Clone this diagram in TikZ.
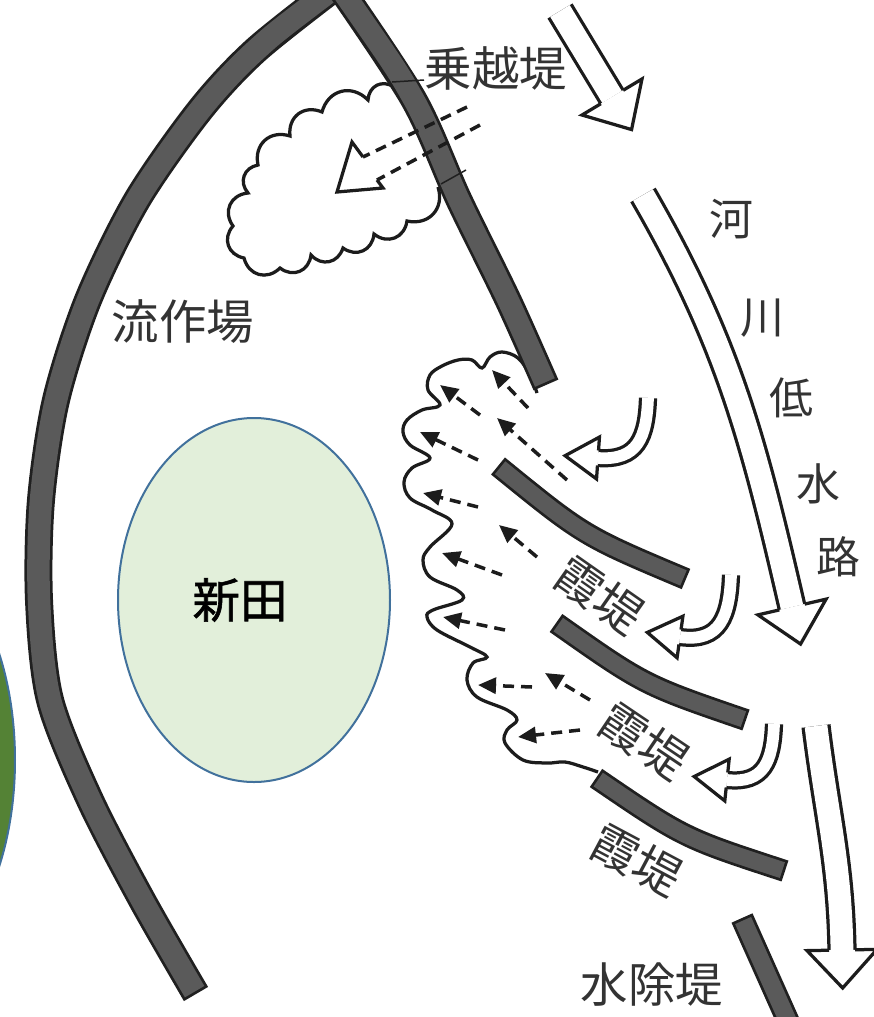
\documentclass[tikz,border=0pt]{standalone}
\usepackage{fontspec}
\setmainfont{Noto Sans CJK JP}
\newfontfamily\fieldfont[FakeBold=1.2]{Noto Sans CJK JP}
\usetikzlibrary{arrows.meta}

\definecolor{ink}{HTML}{1C1C1C}
\definecolor{dikegray}{HTML}{5A5A5A}
\definecolor{dikeline}{HTML}{202020}
\definecolor{labelgray}{HTML}{333333}
\definecolor{fieldgreen}{HTML}{E2EFDA}
\definecolor{fieldblue}{HTML}{41719C}
\definecolor{woodgreen}{HTML}{548235}

\tikzset{
  dike/.style={draw=dikeline, line width=#1,
    postaction={draw=dikegray, line width=#1-1.1mm, shorten <=0.55mm, shorten >=0.55mm}},
  floodline/.style={draw=ink, line width=0.65mm},
  dashline/.style={draw=ink, line width=0.7mm, dash pattern=on 2.2mm off 1.4mm},
  seepage/.style={dashline, -{Triangle[length=3.6mm, width=3.2mm]}},
  wideshaft/.style={draw=ink, line width=0.65mm, double=white, double distance=4.55mm},
  narrowshaft/.style={draw=ink, line width=0.65mm, double=white, double distance=2.35mm},
  pics/widehead/.style={code={
    \filldraw[draw=ink, fill=white, line width=0.65mm] (0,13) -- (0,35) -- (38,0) -- (0,-35) -- (0,-13);}},
  pics/narrowhead/.style={code={
    \filldraw[draw=ink, fill=white, line width=0.65mm] (0,7.5) -- (0,21) -- (33,0) -- (0,-21) -- (0,-7.5);}},
  lbl/.style={text=labelgray, font=\fontsize{27}{30}\selectfont, inner sep=0pt},
  scallop/.style={bend left=60, looseness=1.25},
}

\begin{document}
\begin{tikzpicture}[x=0.2mm, y=0.2mm, yscale=-1]
  \useasboundingbox (0,0) rectangle (874,1017);
  \clip (0,0) rectangle (874,1017);

  % fields
  \draw[draw=fieldblue, fill=woodgreen, line width=0.4mm] (-100,760) ellipse [x radius=115, y radius=210];
  \draw[draw=fieldblue, fill=fieldgreen, line width=0.4mm] (254,600) ellipse [x radius=136, y radius=182];
  \node[font=\fontsize{27}{30}\fieldfont, inner sep=0pt] (shinden) at (240,600) {新田};

  % water behind the overflow levee
  \draw[floodline] (394,87) to[scallop] (368,100) to[scallop] (322,112) to[scallop] (290,136)
    to[scallop] (258,165) to[scallop] (248,193) to[scallop] (233,226) to[scallop] (244,258)
    to[scallop] (280,268) to[scallop] (311,255) to[scallop] (343,248) to[scallop] (374,234)
    to[scallop] (407,221) to[scallop] (438,187);

  % water behind the open levees
  \draw[floodline] plot[smooth, tension=0.6] coordinates {
    (537,393) (530,375) (518,358) (502,352) (490,357) (482,368) (472,360) (458,360)
    (442,366) (430,375) (428,390) (440,405) (422,410) (407,420) (403,432) (410,445)
    (430,458) (412,468) (404,482) (410,498) (432,510) (452,524) (430,547) (423,560)
    (430,577) (457,590) (462,600) (433,610) (427,617) (437,630) (470,647) (487,657)
    (473,663) (467,680) (477,697) (507,710) (517,720) (507,730) (505,743) (523,760)
    (547,763) (565,762) (583,767) (598,772)};

  % levees
  \draw[dike=5.6mm] plot[smooth] coordinates {
    (338,-15) (256,50) (200,110) (137,200) (88,300) (56,400) (41,500) (39,600)
    (50,700) (90,800) (142,900) (196,994)};
  \draw[dike=5.4mm] plot[smooth] coordinates {
    (338,-15) (414,100) (459,200) (508,300) (546,385)};
  \draw[draw=dikeline, line width=0.3mm] (392,82) -- (424,80);
  \draw[draw=dikeline, line width=0.3mm] (441,184) -- (466,170);

  \draw[dike=4.4mm] (498,466) .. controls (584,536) .. (686,579);
  \draw[dike=4.4mm] (556,623) .. controls (644,685) .. (746,720);
  \draw[dike=4.4mm] (596,778) .. controls (684,838) .. (785,871);
  \draw[dike=4.6mm] (742,918) -- (792,1030);

  % overflow
  \draw[dashline] (467,107) -- (363,157);
  \draw[dashline] (480,125) -- (377,180);
  \draw[floodline] (363,157) -- (352,142) -- (337,192) -- (383,188) -- (377,180);

  % seepage through the open levees
  \draw[seepage] (528,408) -- (492,370);
  \draw[seepage] (567,480) -- (497,418);
  \draw[seepage] (480,415) -- (440,385);
  \draw[seepage] (478,460) -- (420,432);
  \draw[seepage] (478,507) -- (423,493);
  \draw[seepage] (537,557) -- (499,525);
  \draw[seepage] (502,575) -- (442,553);
  \draw[seepage] (505,630) -- (443,617);
  \draw[seepage] (532,687) -- (478,685);
  \draw[seepage] (590,700) -- (545,673);
  \draw[seepage] (580,730) -- (518,737);

  % river flow
  \draw[wideshaft] (560,11) -- (612,97);
  \pic[rotate=-59] at (612,97) {widehead};
  \draw[wideshaft] (643,195) to[out=60, in=-103] (792,607);
  \pic[rotate=-77] at (792,607) {widehead};
  \draw[wideshaft] (816,726) to[out=83, in=-91] (842,950);
  \pic[rotate=-89] at (842,950) {widehead};

  % backflow into the open levees
  \draw[narrowshaft] (648,398) to[out=92, in=4, looseness=1.3] (598,458);
  \pic[rotate=-184] at (598,458) {narrowhead};
  \draw[narrowshaft] (731,575) to[out=92, in=8, looseness=1.3] (680,637);
  \pic[rotate=-188] at (680,637) {narrowhead};
  \draw[narrowshaft] (774,724) to[out=92, in=6, looseness=1.3] (727,780);
  \pic[rotate=-186] at (727,780) {narrowhead};

  % labels
  \node[lbl] (norikoshi) at (496,68) {乗越堤};
  \node[lbl] (ryusaku) at (183,322) {流作場};
  \node[lbl, font=\fontsize{25}{28}\selectfont] (ka) at (731,219) {河};
  \node[lbl, font=\fontsize{25}{28}\selectfont] (sen) at (762,318) {川};
  \node[lbl, font=\fontsize{25}{28}\selectfont] (tei) at (791,398) {低};
  \node[lbl, font=\fontsize{25}{28}\selectfont] (sui) at (818,484) {水};
  \node[lbl, font=\fontsize{25}{28}\selectfont] (ro) at (838,557) {路};
  \node[lbl, rotate=-35] (kasumi1) at (600,595) {霞堤};
  \node[lbl, rotate=-34] (kasumi2) at (644,741) {霞堤};
  \node[lbl, rotate=-28] (kasumi3) at (637,860) {霞堤};
  \node[lbl] (mizuyoke) at (652,985) {水除堤};
\end{tikzpicture}
\end{document}
